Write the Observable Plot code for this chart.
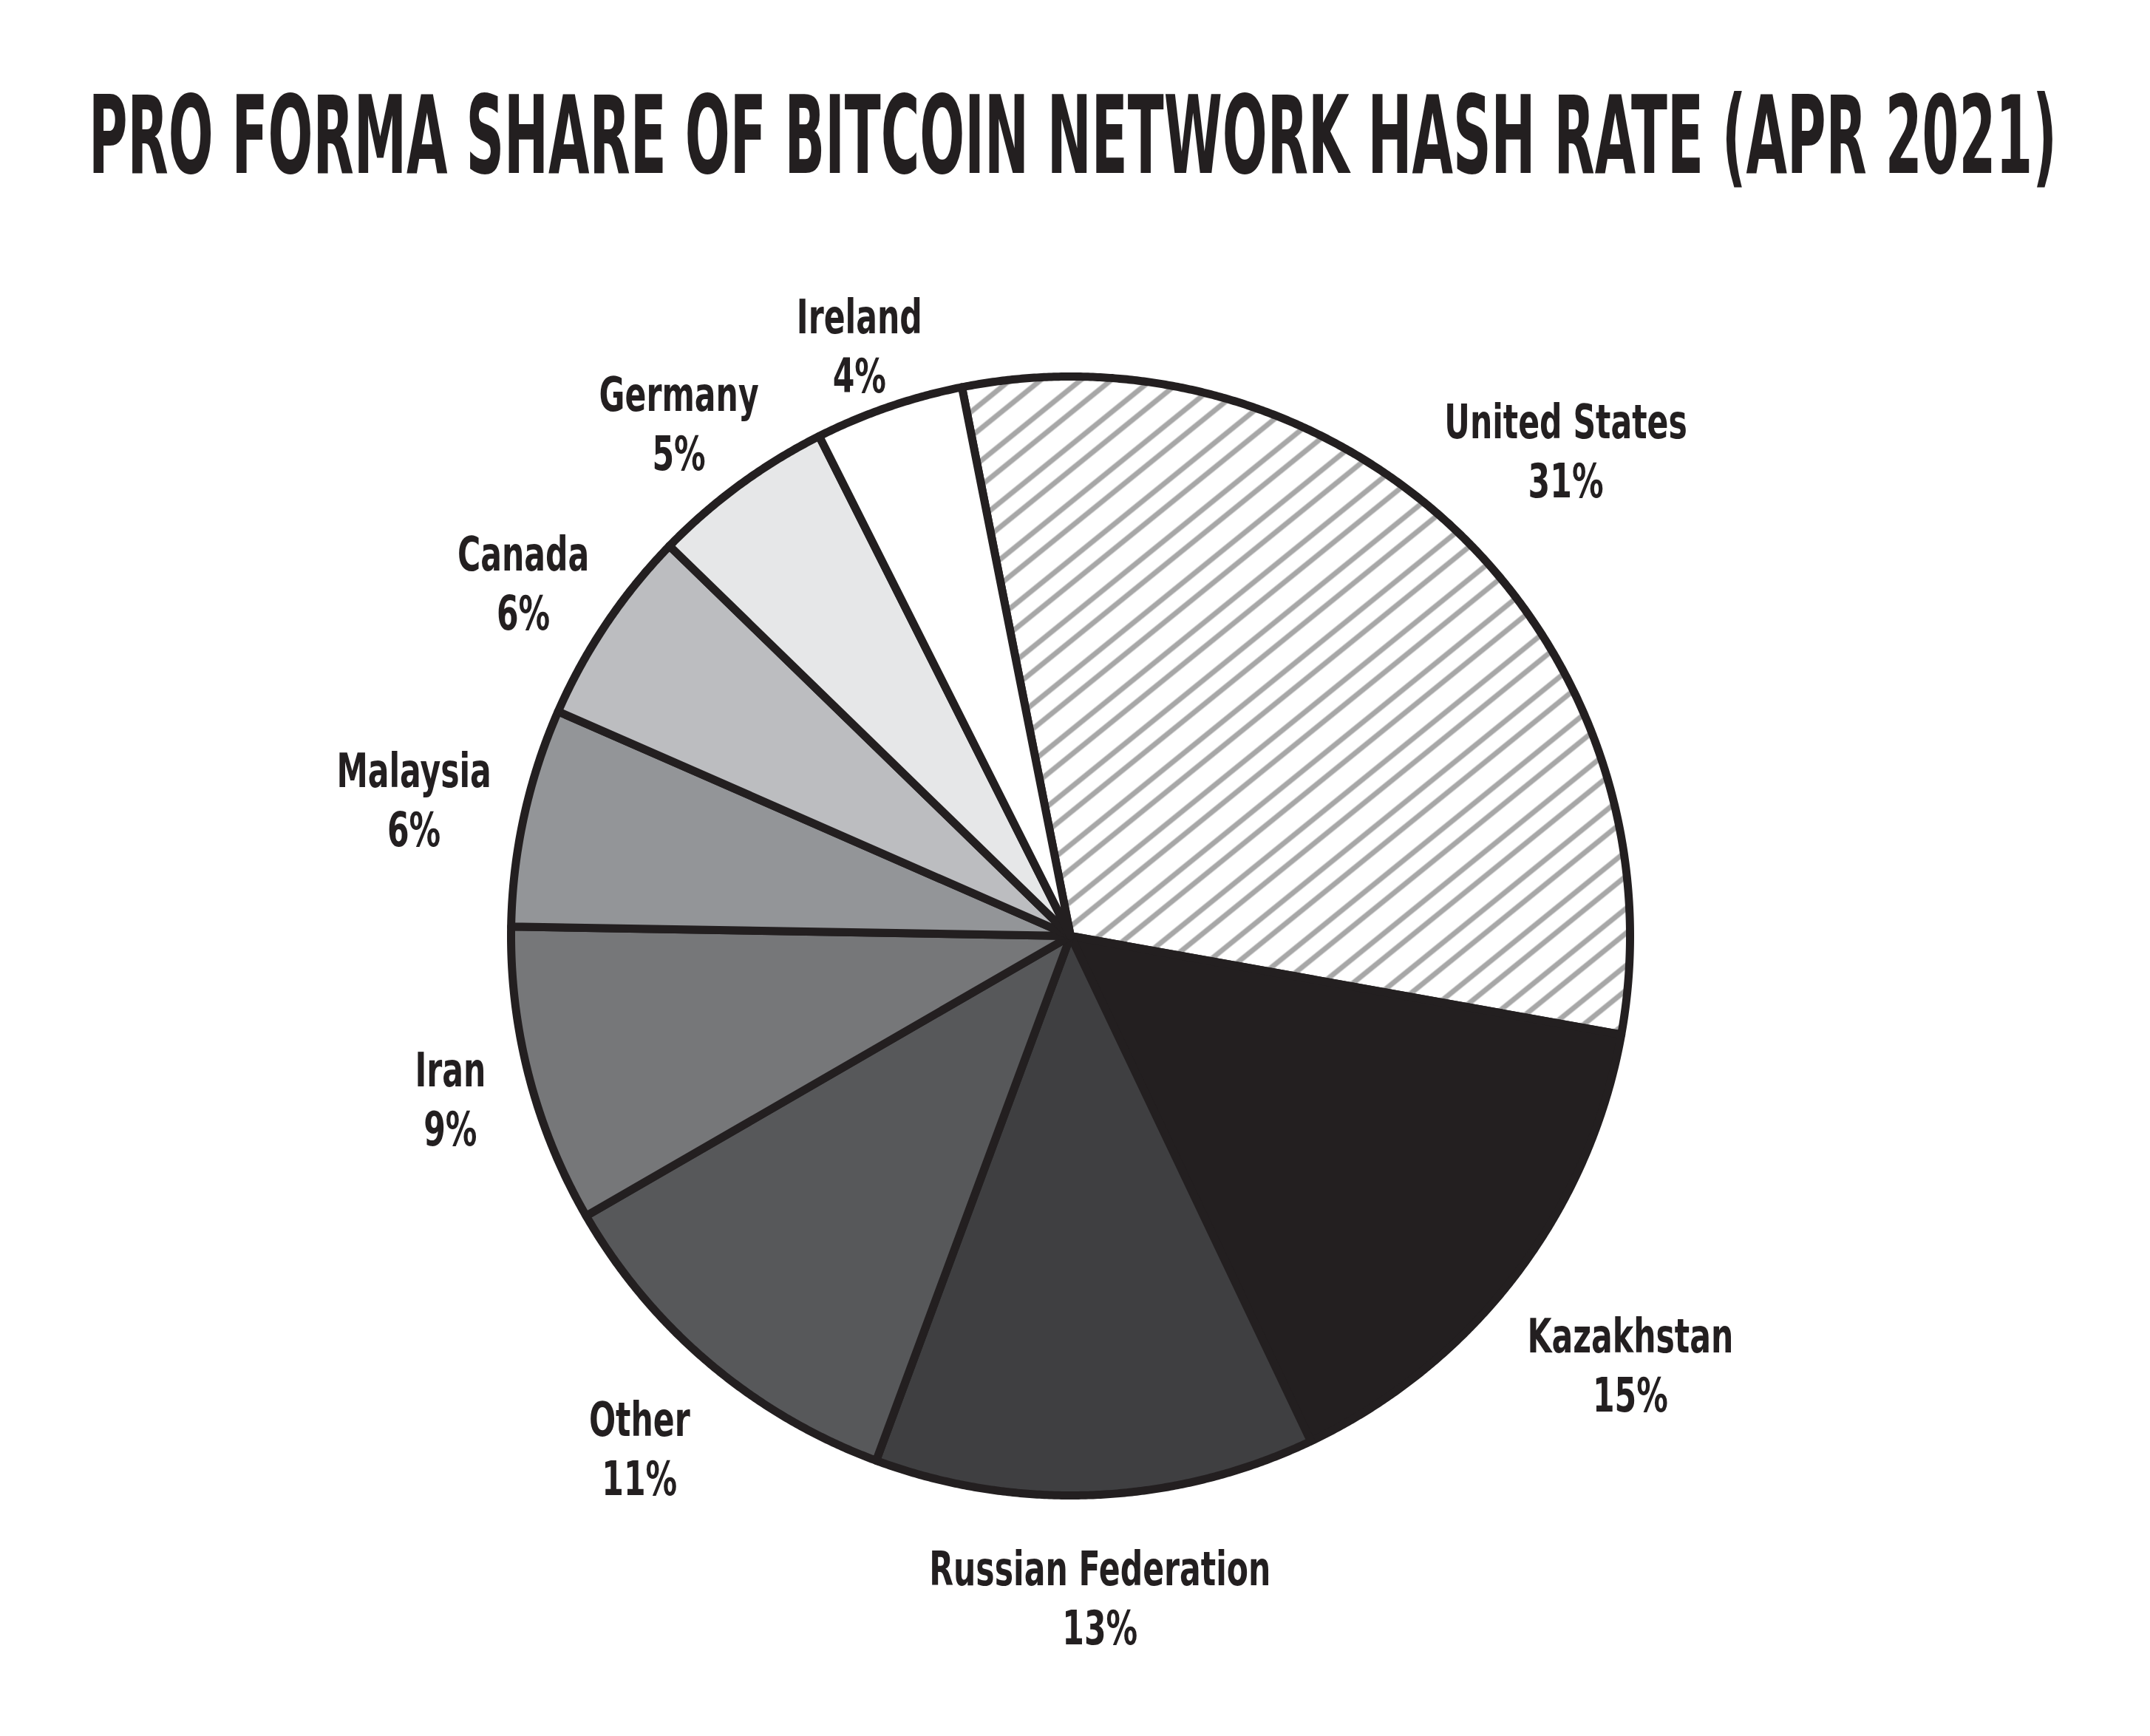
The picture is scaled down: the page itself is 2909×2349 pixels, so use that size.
<!DOCTYPE html>
<html><head><meta charset="utf-8">
<script src="https://cdn.jsdelivr.net/npm/d3@7"></script>
<script src="https://cdn.jsdelivr.net/npm/@observablehq/plot@0.6"></script>
<style>
html,body{margin:0;padding:0;background:#fff;}
svg{display:block;}
#title{width:2909px;height:300px;position:relative;overflow:hidden;}
#title span{position:absolute;left:0;top:0;white-space:nowrap;font-family:'DejaVu Sans Condensed','DejaVu Sans',sans-serif;font-weight:bold;font-size:147px;line-height:1;color:#231f20;transform-origin:0 0;}
</style></head><body>
<div id="title"><span id="titletext"></span></div>
<div id="chart"></div>
<script>
// ---- data ----
const countries = ["United States","Kazakhstan","Russian Federation","Other","Iran","Malaysia","Canada","Germany","Ireland"];
const shares = [30.9, 15.1, 12.7, 11.0, 8.6, 6.3, 5.7, 5.3, 4.3];
const palette = ["url(#hatch)","#231f20","#3f3f41","#57585a","#767779","#939598","#bcbdc0","#e6e7e8","#ffffff"];
const titleText = "PRO FORMA SHARE OF BITCOIN NETWORK HASH RATE (APR 2021)";

// ---- title (fitted to the reference width) ----
const tspan = document.getElementById("titletext");
tspan.textContent = titleText;
const tw = tspan.getBoundingClientRect().width;
const tLeft = 120, tWidth = 2663;
tspan.style.transform = `translate(${tLeft}px, 110px) scale(${tWidth / tw}, 1)`;

// ---- layout ----
const W = 2909, H = 2049;
const R = 757, cx = 1448, cy = 966;
const startDeg = -11.2;
const total = d3.sum(shares);
let acc = startDeg;
const slices = countries.map((name, i) => {
  const a0 = acc, a1 = acc + shares[i] / total * 360; acc = a1;
  return {name, value: shares[i], a0, a1};
});
const pts = [];
for (const s of slices) {
  pts.push({name: s.name, x: 0, y: 0});
  const n = Math.ceil((s.a1 - s.a0) / 0.25);
  for (let k = 0; k <= n; k++) {
    const a = (s.a0 + (s.a1 - s.a0) * k / n) * Math.PI / 180;
    pts.push({name: s.name, x: Math.sin(a), y: Math.cos(a)});
  }
}
// label placement: outside the rim along each slice's bisector, pushed out by half the text box
const charW = 26.5 / R, hhUp = 60 / R, hhDown = 90 / R, kR = 1.0475, drop = 33 / R;
const labels = slices.map(s => {
  const m = (s.a0 + s.a1) / 2 * Math.PI / 180;
  const sn = Math.sin(m), cs = Math.cos(m);
  const hw = s.name.length * charW / 2;
  const d = kR + hw * Math.abs(sn) + (cs > 0 ? hhUp : hhDown) * Math.abs(cs);
  return {text: `${s.name}\n${Math.round(s.value)}%`, x: d * sn, y: d * cs - (cs > 0 ? drop * cs : 0)};
});

// ---- chart ----
const svg = Plot.plot({
  width: W, height: H, margin: 0,
  x: {domain: [-cx / R, (W - cx) / R], axis: null},
  y: {domain: [-(H - cy) / R, cy / R], axis: null},
  color: {type: "ordinal", domain: countries, range: palette},
  style: {background: "white"},
  marks: [
    Plot.line(pts, {x: "x", y: "y", z: "name", fill: "name", stroke: "#231f20", strokeWidth: 11, curve: "linear-closed", strokeLinejoin: "round"}),
    Plot.text(labels, {x: "x", y: "y", text: "text", fontSize: 64, fontWeight: "bold",
      fontFamily: "'DejaVu Sans Condensed', 'DejaVu Sans', sans-serif",
      fill: "#231f20", lineHeight: 1.25, textAnchor: "middle", lineAnchor: "middle"})
  ]
});
const defs = d3.select(svg).insert("defs", ":first-child");
const pat = defs.append("pattern").attr("id", "hatch").attr("patternUnits", "userSpaceOnUse")
  .attr("width", 200).attr("height", 60).attr("patternTransform", "rotate(-39)");
pat.append("rect").attr("width", 200).attr("height", 60).attr("fill", "white");
[6, 32].forEach(y => pat.append("line").attr("x1", 0).attr("x2", 200).attr("y1", y).attr("y2", y)
  .attr("stroke", "#a7a7a7").attr("stroke-width", 7));
document.getElementById("chart").appendChild(svg);
// condense the label glyphs horizontally around their anchors
d3.select(svg).selectAll("text").each(function() {
  const t = this.getAttribute("transform");
  if (t) this.setAttribute("transform", t + " scale(0.74,1)");
});
</script>
</body></html>
